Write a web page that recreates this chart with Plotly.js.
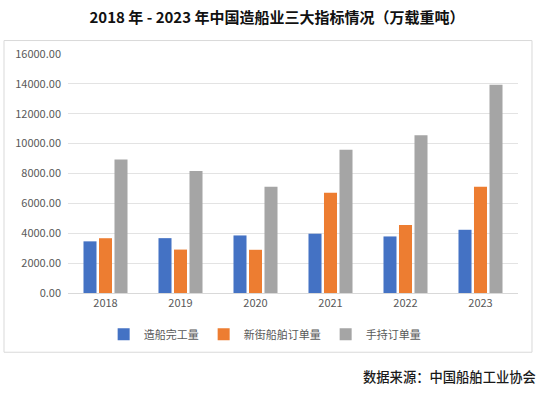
<!DOCTYPE html>
<html><head><meta charset="utf-8">
<script src="https://cdn.plot.ly/plotly-3.0.1.min.js"></script>
<style>html,body{margin:0;padding:0;background:#fff;}#chart{width:554px;height:393px;}</style>
</head><body><div id="chart"></div>
<script>
const years = ['2018','2019','2020','2021','2022','2023'];
const completed = [3458, 3672, 3853, 3970, 3786, 4232];
const newOrders = [3667, 2907, 2893, 6707, 4552, 7120];
const holding = [8931, 8166, 7111, 9584, 10557, 13939];
const seriesNames = ['造船完工量', '新街船舶订单量', '手持订单量'];
const colors = ['#4472C4', '#ED7D31', '#A5A5A5'];
const tickVals = [0,2000,4000,6000,8000,10000,12000,14000,16000];
const tickText = tickVals.map(v => v.toFixed(2));

const font = '"Noto Sans CJK SC", "Noto Sans", sans-serif';
const traces = [completed, newOrders, holding].map((d, i) => ({
  type: 'bar', x: years, y: d, name: seriesNames[i],
  marker: {color: colors[i]}, hoverinfo: 'x+y'
}));

const layout = {
  width: 554, height: 393,
  margin: {l: 68, r: 36, t: 53.5, b: 99.5, pad: 0},
  paper_bgcolor: '#fff', plot_bgcolor: '#fff',
  font: {family: font, color: '#595959', size: 11},
  title: {text: '<b>2018 年 - 2023 年中国造船业三大指标情况（万载重吨）</b>',
    font: {family: font, size: 15, color: '#111'}, x: 0.5, xanchor: 'center', y: 0.954, yanchor: 'middle', yref: 'container'},
  barmode: 'group', bargap: 0.38, bargroupgap: 0.16,
  xaxis: {type: 'category', showgrid: false, zeroline: false, showline: false, ticks: '',
    tickfont: {size: 11, color: '#595959'}, ticklabelstandoff: 2},
  yaxis: {range: [0, 16000], tickvals: tickVals, ticktext: tickText, showgrid: true,
    gridcolor: '#e3e3e3', gridwidth: 1, zeroline: true, zerolinecolor: '#d9d9d9', showline: false, ticks: '',
    tickfont: {size: 11, color: '#595959'}, ticklabelstandoff: 6},
  showlegend: true,
  legend: {orientation: 'h', x: 0.437, xanchor: 'center', y: -0.173, yanchor: 'middle',
    font: {size: 11, color: '#595959'}, itemwidth: 30, traceorder: 'normal', itemclick: false},
  shapes: [{type: 'rect', xref: 'paper', yref: 'paper', x0: -0.1422, x1: 1.0311, y0: -0.2479, y1: 1.05625,
    line: {color: '#d9d9d9', width: 1}, fillcolor: 'rgba(0,0,0,0)', layer: 'below'}],
  annotations: [{text: '数据来源：中国船舶工业协会', xref: 'paper', yref: 'paper', x: 1.0444, xanchor: 'right',
    y: -0.348, yanchor: 'middle', showarrow: false, font: {family: font, size: 13.3, color: '#1a1a1a', weight: 500}}]
};
Plotly.newPlot('chart', traces, layout, {displayModeBar: false, staticPlot: true});
</script></body></html>
